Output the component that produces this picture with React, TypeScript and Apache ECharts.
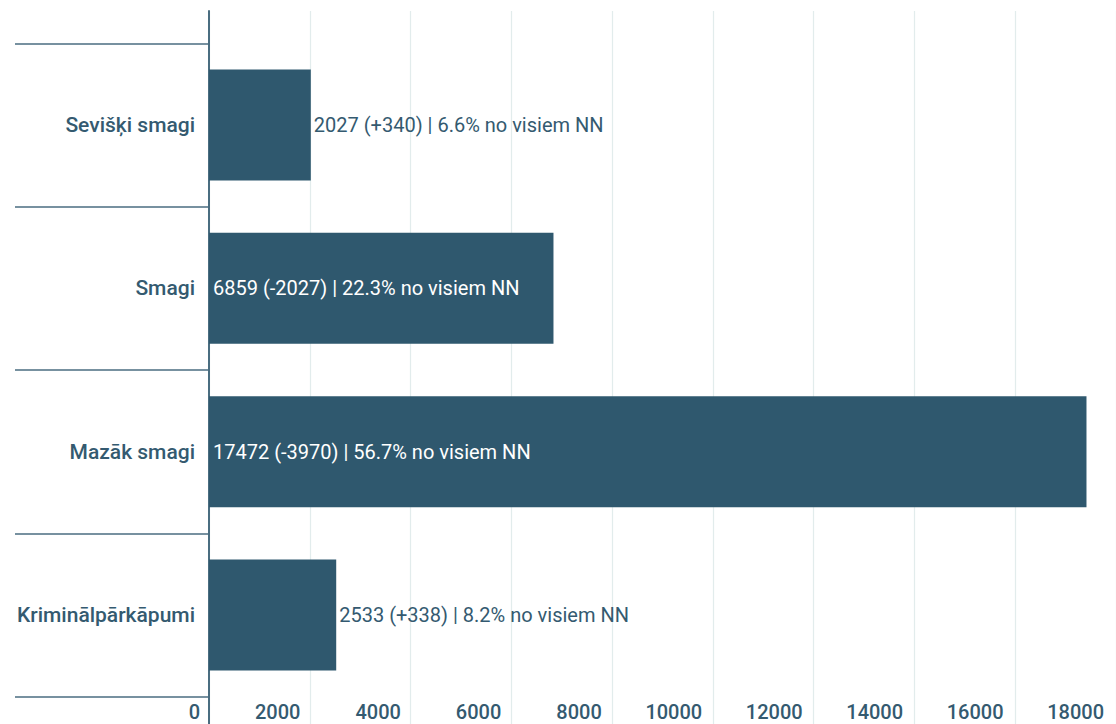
import React, { useEffect, useRef } from "react";
import * as echarts from "echarts";

const categories = ["Sevišķi smagi", "Smagi", "Mazāk smagi", "Kriminālpārkāpumi"];
const values = [2027, 6859, 17472, 2533];
const changes = [340, -2027, -3970, 338];
const shares = [6.6, 22.3, 56.7, 8.2];
const xMin = 0;
const xMax = 18000;
const xInterval = 2000;

const BAR = "#2f586e";
const TEXT = "#345a70";
const SEP = "#4a6d80";
const GRIDLINE = "#e2ecec";
const FONT = "Roboto";

export default function App() {
  const ref = useRef<HTMLDivElement>(null);
  useEffect(() => {
    if (!ref.current) return;
    const chart = echarts.init(ref.current, null, { renderer: "svg" });
    const labelText = (i: number) => {
      const c = changes[i];
      const sign = c > 0 ? "+" : "";
      return `${values[i]} (${sign}${c}) | ${shares[i].toFixed(1)}% no visiem NN`;
    };
    chart.setOption({
      animation: false,
      backgroundColor: "#ffffff",
      textStyle: { fontFamily: FONT },
      grid: [
        { left: 209, top: 43.33, width: 909, height: 653.33 },
        { left: 209, top: 11, width: 909, height: 713 },
      ],
      xAxis: [
        {
          gridIndex: 0,
          type: "value",
          min: xMin,
          max: xMax,
          interval: xInterval,
          axisLine: { show: false },
          axisTick: { show: false },
          splitLine: { show: false },
          axisLabel: {
            show: true,
            fontFamily: FONT,
            fontSize: 20,
            lineHeight: 20,
            fontWeight: 500,
            color: TEXT,
            align: "right",
            verticalAlign: "top",
            padding: [0, 9, 0, 0],
            margin: 5,
            showMaxLabel: true,
            showMinLabel: true,
            formatter: (v: number) => String(v),
          },
        },
        {
          gridIndex: 1,
          type: "value",
          min: xMin,
          max: xMax,
          interval: xInterval,
          axisLine: { show: false },
          axisTick: { show: false },
          axisLabel: { show: false },
          splitLine: { show: true, lineStyle: { color: GRIDLINE, width: 1.2 } },
        },
      ],
      yAxis: [
        {
          gridIndex: 0,
          type: "category",
          inverse: true,
          data: categories,
          axisLine: { show: false },
          axisTick: { show: true, length: 194, lineStyle: { color: SEP, width: 1.5 } },
          axisLabel: {
            fontFamily: FONT,
            fontSize: 21,
            fontWeight: 500,
            color: TEXT,
            margin: 14,
          },
          splitLine: { show: false },
        },
        {
          gridIndex: 1,
          type: "value",
          min: 0,
          max: 1,
          axisLine: { show: true, onZero: false, lineStyle: { color: SEP, width: 2 } },
          axisTick: { show: false },
          axisLabel: { show: false },
          splitLine: { show: false },
        },
      ],
      series: [
        {
          type: "bar",
          xAxisIndex: 0,
          yAxisIndex: 0,
          barCategoryGap: "32%",
          itemStyle: { color: BAR },
          data: values.map((v, i) => ({
            value: v,
            label:
              v > 5000
                ? { show: true, position: "insideLeft", distance: 4, color: "#ffffff" }
                : { show: true, position: "right", distance: 3, color: TEXT },
          })),
          label: {
            show: true,
            fontFamily: FONT,
            fontSize: 20,
            fontWeight: 400,
            formatter: (p: any) => labelText(p.dataIndex),
          },
        },
      ],
    });
    return () => chart.dispose();
  }, []);
  return (
    <div
      ref={ref}
      style={{ position: "absolute", left: 0, top: 0, width: 1116, height: 724 }}
    />
  );
}
